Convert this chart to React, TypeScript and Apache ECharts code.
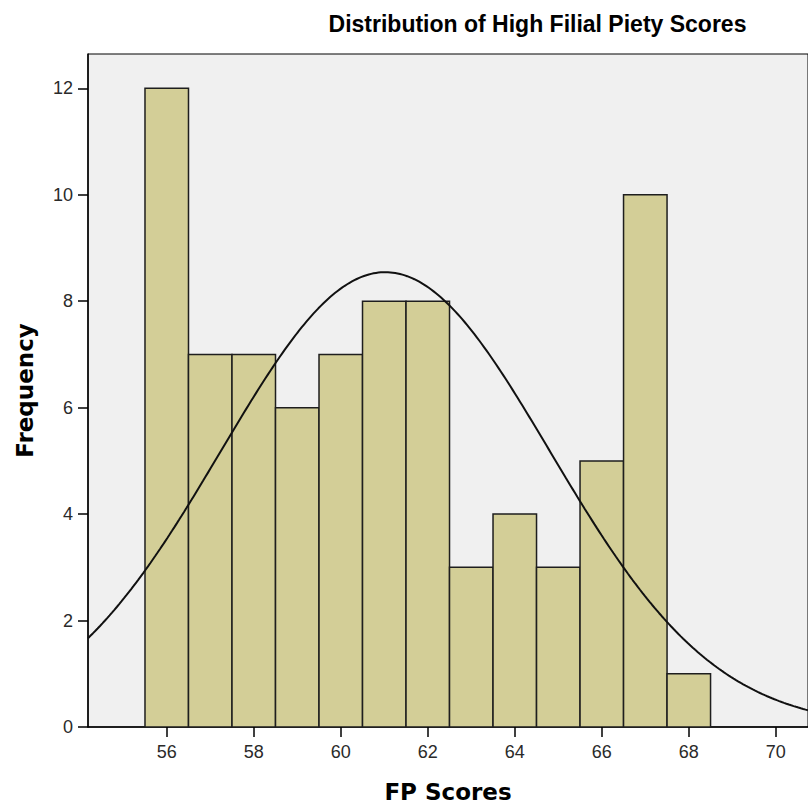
import React, { useEffect, useRef } from "react";
import * as echarts from "echarts";

const scores = [56, 57, 58, 59, 60, 61, 62, 63, 64, 65, 66, 67, 68];
const frequencies = [12, 7, 7, 6, 7, 8, 8, 3, 4, 3, 5, 10, 1];
const xTicks = [56, 58, 60, 62, 64, 66, 68, 70];
const yTicks = [0, 2, 4, 6, 8, 10, 12];
const titleText = "Distribution of High Filial Piety Scores";
const xName = "FP Scores";
const yName = "Frequency";

const X_MIN = 54.19;
const X_MAX = 70.74;
const Y_MAX = 12.645;

export default function App() {
  const ref = useRef<HTMLDivElement>(null);
  useEffect(() => {
    if (!ref.current) return;
    const chart = echarts.init(ref.current, null, { renderer: "svg" });

    // fitted normal curve from the data's own mean and sd
    const n = frequencies.reduce((a, b) => a + b, 0);
    const mean = scores.reduce((s, x, i) => s + x * frequencies[i], 0) / n;
    const variance =
      scores.reduce((s, x, i) => s + frequencies[i] * (x - mean) ** 2, 0) / (n - 1);
    const sd = Math.sqrt(variance);
    const curve: number[][] = [];
    const steps = 300;
    for (let k = 0; k <= steps; k++) {
      const x = X_MIN + ((X_MAX - X_MIN) * k) / steps;
      const y =
        (n * 1) / (sd * Math.sqrt(2 * Math.PI)) * Math.exp(-((x - mean) ** 2) / (2 * sd * sd));
      curve.push([x, y]);
    }

    const tickLabelStyle = {
      color: "#2a2a2a",
      fontSize: 18,
      fontFamily: "Liberation Sans, Arial, sans-serif",
    };

    chart.setOption({
      animation: false,
      backgroundColor: "#ffffff",
      grid: {
        left: 88,
        top: 54,
        right: -1,
        bottom: 83,
        show: true,
        backgroundColor: "#f0f0f0",
        borderColor: "#000000",
        borderWidth: 1,
      },
      graphic: [
        {
          type: "text",
          x: 537.5,
          y: 24,
          style: {
            text: titleText,
            fill: "#000000",
            font: "bold 23px 'Liberation Sans', Arial, sans-serif",
            textAlign: "center",
            textVerticalAlign: "middle",
          },
        },
      ],
      xAxis: {
        type: "value",
        min: X_MIN,
        max: X_MAX,
        name: xName,
        nameLocation: "middle",
        nameGap: 53,
        nameTextStyle: {
          color: "#000000",
          fontSize: 23,
          fontWeight: "bold",
          fontFamily: "DejaVu Sans, Verdana, sans-serif",
          verticalAlign: "top",
        },
        axisLine: { show: true, lineStyle: { color: "#000000", width: 1.5 } },
        axisTick: {
          show: true,
          length: 10,
          inside: false,
          lineStyle: { color: "#000000", width: 1.5 },
          customValues: xTicks,
        },
        axisLabel: {
          ...tickLabelStyle,
          margin: 16,
          customValues: xTicks,
        },
        splitLine: { show: false },
      },
      yAxis: {
        type: "value",
        min: 0,
        max: Y_MAX,
        name: yName,
        nameLocation: "middle",
        nameGap: 52,
        nameTextStyle: {
          color: "#000000",
          fontSize: 23,
          fontWeight: "bold",
          fontFamily: "DejaVu Sans, Verdana, sans-serif",
        },
        axisLine: { show: true, lineStyle: { color: "#000000", width: 1.5 } },
        axisTick: {
          show: true,
          length: 10,
          inside: false,
          lineStyle: { color: "#000000", width: 1.5 },
          customValues: yTicks,
        },
        axisLabel: {
          ...tickLabelStyle,
          margin: 15,
          customValues: yTicks,
        },
        splitLine: { show: false },
      },
      series: [
        {
          type: "custom",
          name: "Frequency",
          data: scores.map((s, i) => [s, frequencies[i]]),
          encode: { x: 0, y: 1 },
          clip: true,
          renderItem: (params: any, api: any) => {
            const x = api.value(0);
            const y = api.value(1);
            const p1 = api.coord([x - 0.5, y]);
            const p2 = api.coord([x + 0.5, 0]);
            return {
              type: "rect",
              shape: { x: p1[0], y: p1[1], width: p2[0] - p1[0], height: p2[1] - p1[1] },
              style: { fill: "#d3ce97", stroke: "#1e1e1e", lineWidth: 1.5 },
            };
          },
          z: 2,
        },
        {
          type: "line",
          name: "Normal",
          data: curve,
          showSymbol: false,
          symbol: "none",
          smooth: false,
          clip: true,
          lineStyle: { color: "#111111", width: 2 },
          z: 3,
        },
      ],
    });
    return () => chart.dispose();
  }, []);
  return (
    <div
      ref={ref}
      style={{ position: "absolute", left: 0, top: 0, width: 808, height: 810 }}
    />
  );
}
